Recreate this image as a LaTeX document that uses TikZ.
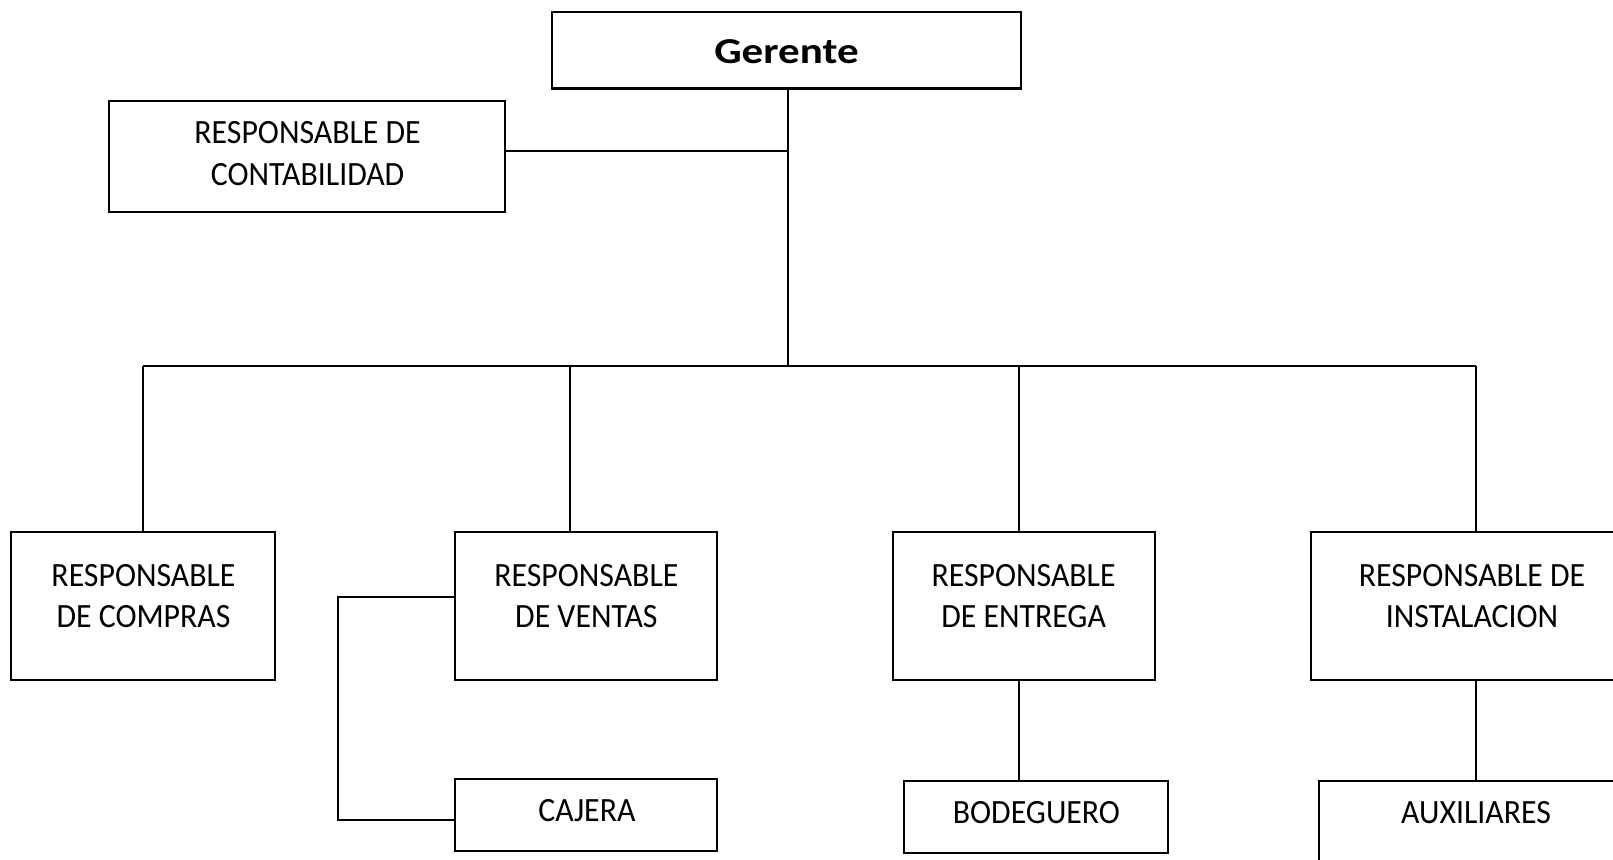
\documentclass[tikz,border=0pt]{standalone}
\usepackage{fontspec}
\setmainfont{Carlito}
\newfontfamily\boxfont[FakeStretch=0.935]{Carlito}
\newfontfamily\headfont[FakeStretch=1.18]{Carlito}
\usetikzlibrary{calc}
\begin{document}
\begin{tikzpicture}[x=1pt,y=-1pt,
  box/.style={draw=black, line width=2.8pt, fill=white, inner sep=0pt},
  link/.style={draw=black, line width=2.4pt},
  lbl/.style={inner sep=0pt, align=center, font=\boxfont\fontsize{34}{41.5}\selectfont},
  title/.style={inner sep=0pt, font=\headfont\fontsize{36.5}{40}\selectfont\bfseries}]
\path[use as bounding box, clip] (0,0) rectangle (1613,859);
\fill[white] (0,0) rectangle (1613,859);

% boxes
\node[box, minimum width=469pt, minimum height=76.5pt] (ger)  at (786.5,50.25) {};
\node[box, minimum width=396pt, minimum height=111pt]  (cont) at (307,156.5) {};
\node[box, minimum width=264pt, minimum height=148pt]  (comp) at (143,606) {};
\node[box, minimum width=262pt, minimum height=148pt]  (vent) at (586,606) {};
\node[box, minimum width=262pt, minimum height=148pt]  (entr) at (1024,606) {};
\node[box, minimum width=322pt, minimum height=148pt]  (inst) at (1472,606) {};
\node[box, minimum width=262pt, minimum height=72pt]   (caj)  at (586,815) {};
\node[box, minimum width=264pt, minimum height=72pt]   (bod)  at (1036,817) {};
\node[box, minimum width=314pt, minimum height=99pt]   (aux)  at (1476,830.5) {};

% texts
\node[title] (tger) at ($(ger.center)+(0,1)$) {Gerente};
\node[lbl] (tcont) at ($(cont.north)+(0.6,54)$) {RESPONSABLE DE\\CONTABILIDAD};
\node[lbl] (tcomp) at ($(comp.north)+(0.5,65.5)$) {RESPONSABLE\\DE COMPRAS};
\node[lbl] (tvent) at ($(vent.north)+(0.4,65.5)$) {RESPONSABLE\\DE VENTAS};
\node[lbl] (tentr) at ($(entr.north)+(-0.4,65.5)$) {RESPONSABLE\\DE ENTREGA};
\node[lbl] (tinst) at ($(inst.north)+(0,65.5)$) {RESPONSABLE DE\\INSTALACION};
\node[lbl] (tcaj)  at ($(caj.north)+(0.9,32.6)$) {CAJERA};
\node[lbl] (tbod)  at ($(bod.north)+(0.4,32.6)$) {BODEGUERO};
\node[lbl] (taux)  at ($(aux.north)+(0,32.6)$) {AUXILIARES};

% junction points
\coordinate (trunk) at (788,366);
\coordinate (jc) at (788,151);
\coordinate (b1) at (143,366);
\coordinate (b2) at (570,366);
\coordinate (b3) at (1019,366);
\coordinate (b4) at (1476,366);
\coordinate (cv) at (338,597);
\coordinate (cc) at (338,820);

% connectors
\draw[link] (trunk |- ger.south) -- (trunk);
\draw[link] (jc -| cont.east) -- (jc);
\draw[link] (b1) -- (b4);
\draw[link] (b1) -- (b1 |- comp.north);
\draw[link] (b2) -- (b2 |- vent.north);
\draw[link] (b3) -- (b3 |- entr.north);
\draw[link] (b4) -- (b4 |- inst.north);
\draw[link] (cv -| vent.west) -- (cv) -- (cc) -- (cc -| caj.west);
\draw[link] (b3 |- entr.south) -- (b3 |- bod.north);
\draw[link] (b4 |- inst.south) -- (b4 |- aux.north);
\end{tikzpicture}
\end{document}
